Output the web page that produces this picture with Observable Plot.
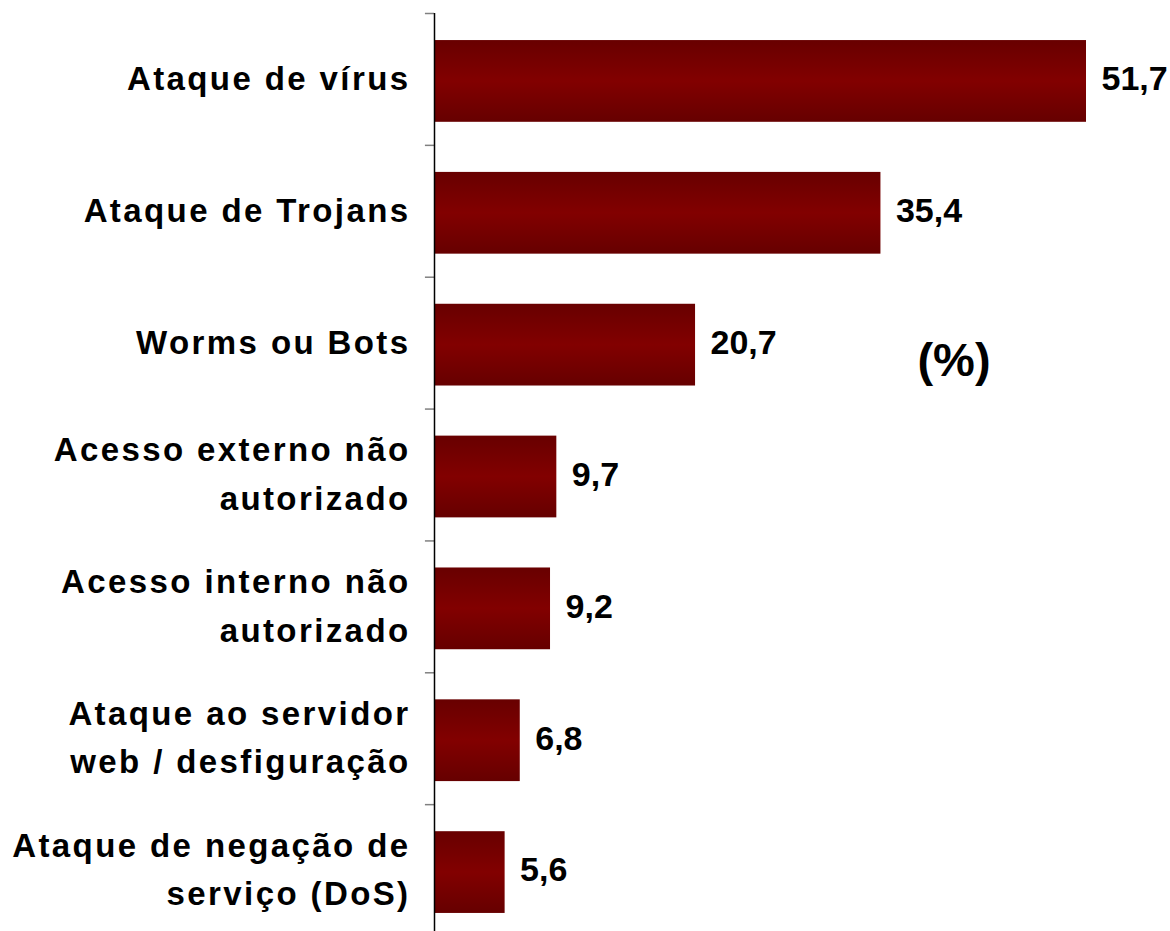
<!DOCTYPE html>
<html>
<head>
<meta charset="utf-8">
<script src="https://cdn.jsdelivr.net/npm/d3@7"></script>
<script src="https://cdn.jsdelivr.net/npm/@observablehq/plot@0.6"></script>
<style>
  html, body { margin: 0; padding: 0; background: #fff; overflow: hidden; }
</style>
</head>
<body>
<div id="chart"></div>
<script>
const categories = [
  "Ataque de vírus",
  "Ataque de Trojans",
  "Worms ou Bots",
  "Acesso externo não\nautorizado",
  "Acesso interno não\nautorizado",
  "Ataque ao servidor\nweb / desfiguração",
  "Ataque de negação de\nserviço (DoS)"
];
const values = [51.7, 35.4, 20.7, 9.7, 9.2, 6.8, 5.6];
const unitLabel = "(%)";

const data = categories.map((c, i) => ({category: c, value: values[i]}));
const fmt = v => v.toFixed(1).replace(".", ",");

const W = 1170, H = 931;
const y0 = 15, y1 = 938;
const step = (y1 - y0) / categories.length;

const chart = Plot.plot({
  width: W,
  height: H,
  marginTop: 13,
  marginBottom: 0,
  marginLeft: 434,
  marginRight: 84,
  style: {fontFamily: "'Liberation Sans', Arial, sans-serif", background: "#fff", overflow: "visible"},
  x: {domain: [0, 51.7], axis: null},
  y: {domain: categories, range: [y0, y1], paddingInner: 0.38, paddingOuter: 0.19, round: false, axis: null},
  marks: [
    Plot.barX(data, {x: "value", y: "category", fill: "url(#barGrad)"}),
    Plot.ruleY(categories, {y: d => d, x1: -0.72, x2: 0, dy: -step / 2 - 2, stroke: "#808080", strokeWidth: 1.5}),
    Plot.ruleY(categories.slice(-1), {y: d => d, x1: -0.72, x2: 0, dy: step / 2 - 2, stroke: "#808080", strokeWidth: 1.5}),
    Plot.ruleX([0], {stroke: "#000", strokeWidth: 1.5}),
    Plot.text(data, {x: 0, y: "category", text: "category", dx: -24, dy: -7, textAnchor: "end",
      fontSize: 33, fontWeight: "bold", lineHeight: 1.47, fill: "#000"}),
    Plot.text(data, {x: "value", y: "category", text: d => fmt(d.value), dx: 15, dy: -2, textAnchor: "start",
      fontSize: 34, fontWeight: "bold", fill: "#000"}),
    Plot.text([unitLabel], {frameAnchor: "top-left", text: d => d, dx: 519.5, dy: 347, textAnchor: "middle",
      lineAnchor: "middle", fontSize: 47, fontWeight: "bold", fill: "#000"})
  ]
});

// widen letter spacing of the category labels, as in the original
const labelSet = new Set(categories.map(c => c.replace("\n", "")));
chart.querySelectorAll("text").forEach(t => {
  if (labelSet.has(t.textContent)) t.style.letterSpacing = "2.4px";
});

const ns = "http://www.w3.org/2000/svg";
const defs = document.createElementNS(ns, "defs");
defs.innerHTML = `<linearGradient id="barGrad" x1="0" y1="0" x2="0" y2="1">
  <stop offset="0" stop-color="#680000"/>
  <stop offset="0.5" stop-color="#820000"/>
  <stop offset="1" stop-color="#660000"/>
</linearGradient>`;
chart.insertBefore(defs, chart.firstChild);
document.getElementById("chart").appendChild(chart);
</script>
</body>
</html>
